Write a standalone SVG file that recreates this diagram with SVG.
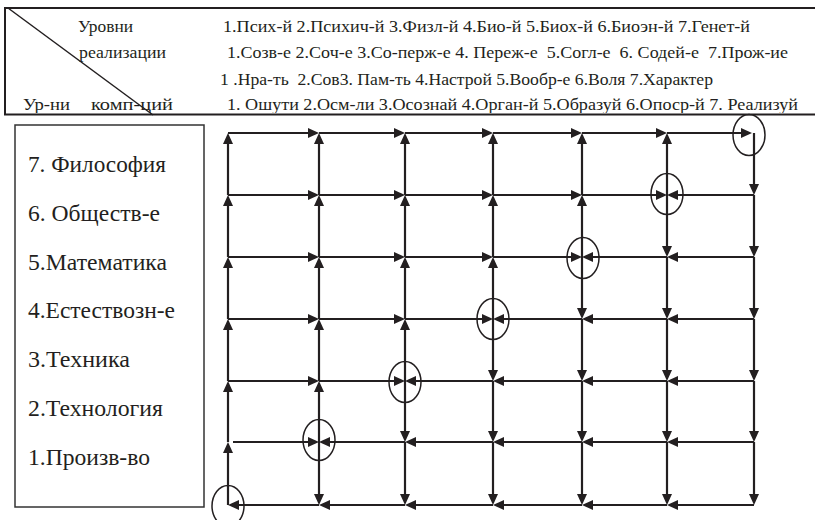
<svg xmlns="http://www.w3.org/2000/svg" width="815" height="520" viewBox="0 0 815 520">
<defs>
<style>
.t{fill:#231f20}
.h{font-size:17px}
.l{font-size:23px}
.frame{stroke:#231f20;fill:none;stroke-width:2}
.box{stroke:#333;fill:none;stroke-width:1.5}
.e{stroke:#231f20;stroke-width:2.2;fill:none;marker-end:url(#ah)}
.c{stroke:#231f20;stroke-width:1.5;fill:none}
</style>
<marker id="ah" viewBox="0 0 11 10" refX="5" refY="5" markerWidth="11" markerHeight="10" markerUnits="userSpaceOnUse" orient="auto">
<path d="M0,0 L11,5 L0,10 Z" fill="#231f20"/>
</marker>
<clipPath id="hc"><rect x="0" y="0" width="815" height="113"/></clipPath>
</defs>
<rect width="815" height="520" fill="#fff"/>

<g id="header" font-family="'Liberation Serif', 'DejaVu Serif', serif">
<path class="frame" d="M815,8 H5 V114.5 H815"/>
<line x1="8" y1="8" x2="153" y2="115" stroke="#231f20" stroke-width="1.5"/>
<text class="t h" x="78" y="32" textLength="55" lengthAdjust="spacingAndGlyphs">Уровни</text>
<text class="t h" x="79" y="58" textLength="87" lengthAdjust="spacingAndGlyphs">реализации</text>
<g clip-path="url(#hc)">
<text class="t h" x="23" y="110" textLength="47" lengthAdjust="spacingAndGlyphs">Ур-ни</text>
<text class="t h" x="91" y="110" textLength="82" lengthAdjust="spacingAndGlyphs">комп-ций</text>
<text class="t h" x="227" y="110" xml:space="preserve" textLength="571" lengthAdjust="spacingAndGlyphs">1. Ошути 2.Осм-ли 3.Осознай 4.Орган-й 5.Образуй 6.Опоср-й 7. Реализуй</text>
</g>
<text class="t h" x="223" y="32" xml:space="preserve" textLength="527" lengthAdjust="spacingAndGlyphs">1.Псих-й 2.Психич-й 3.Физл-й 4.Био-й 5.Биох-й 6.Биоэн-й 7.Генет-й</text>
<text class="t h" x="227" y="58" xml:space="preserve" textLength="561" lengthAdjust="spacingAndGlyphs">1.Созв-е 2.Соч-е 3.Со-перж-е 4. Переж-е  5.Согл-е  6. Содей-е  7.Прож-ие</text>
<text class="t h" x="220" y="85" xml:space="preserve" textLength="493" lengthAdjust="spacingAndGlyphs">1 .Нра-ть  2.Сов3. Пам-ть 4.Настрой 5.Вообр-е 6.Воля 7.Характер</text>
</g>

<g id="levels" font-family="Liberation Serif, serif">
<rect class="box" x="15" y="125" width="189" height="382"/>
<text id="lvl7" class="t l" x="28" y="172" textLength="138" lengthAdjust="spacingAndGlyphs">7. Философия</text>
<text id="lvl6" class="t l" x="28" y="221" textLength="132" lengthAdjust="spacingAndGlyphs">6. Обществ-е</text>
<text id="lvl5" class="t l" x="28" y="270" textLength="139" lengthAdjust="spacingAndGlyphs">5.Математика</text>
<text id="lvl4" class="t l" x="28" y="318" textLength="147" lengthAdjust="spacingAndGlyphs">4.Естествозн-е</text>
<text id="lvl3" class="t l" x="28" y="367" textLength="102" lengthAdjust="spacingAndGlyphs">3.Техника</text>
<text id="lvl2" class="t l" x="28" y="416" textLength="135" lengthAdjust="spacingAndGlyphs">2.Технология</text>
<text id="lvl1" class="t l" x="28" y="465" textLength="122" lengthAdjust="spacingAndGlyphs">1.Произв-во</text>
</g>

<g id="connectors">
<path class="e" d="M228,505 V448"/><path class="e" d="M228,442 V387"/><path class="e" d="M228,381 V325"/>
<path class="e" d="M228,319 V263"/><path class="e" d="M228,257 V201"/><path class="e" d="M228,195 V139"/>
<path class="e" d="M319,442 V499"/><path class="e" d="M319,442 V387"/><path class="e" d="M319,381 V325"/>
<path class="e" d="M319,319 V263"/><path class="e" d="M319,257 V201"/><path class="e" d="M319,195 V139"/>
<path class="e" d="M405,442 V499"/><path class="e" d="M405,381 V436"/><path class="e" d="M405,381 V325"/>
<path class="e" d="M405,319 V263"/><path class="e" d="M405,257 V201"/><path class="e" d="M405,195 V139"/>
<path class="e" d="M493,442 V499"/><path class="e" d="M493,381 V436"/><path class="e" d="M493,319 V375"/>
<path class="e" d="M493,319 V263"/><path class="e" d="M493,257 V201"/><path class="e" d="M493,195 V139"/>
<path class="e" d="M582,442 V499"/><path class="e" d="M582,381 V436"/><path class="e" d="M582,319 V375"/>
<path class="e" d="M582,257 V313"/><path class="e" d="M582,257 V201"/><path class="e" d="M582,195 V139"/>
<path class="e" d="M667,442 V499"/><path class="e" d="M667,381 V436"/><path class="e" d="M667,319 V375"/>
<path class="e" d="M667,257 V313"/><path class="e" d="M667,195 V251"/><path class="e" d="M667,195 V139"/>
<path class="e" d="M754,442 V499"/><path class="e" d="M754,381 V436"/><path class="e" d="M754,319 V375"/>
<path class="e" d="M754,257 V313"/><path class="e" d="M754,195 V251"/><path class="e" d="M754,133 V189"/>
<path class="e" d="M319,505 H234"/><path class="e" d="M405,505 H325"/><path class="e" d="M493,505 H411"/>
<path class="e" d="M582,505 H499"/><path class="e" d="M667,505 H588"/><path class="e" d="M754,505 H673"/>
<path class="e" d="M233,442 H313"/><path class="e" d="M405,442 H325"/><path class="e" d="M493,442 H411"/>
<path class="e" d="M582,442 H499"/><path class="e" d="M667,442 H588"/><path class="e" d="M754,442 H673"/>
<path class="e" d="M228,381 H313"/><path class="e" d="M319,381 H399"/><path class="e" d="M493,381 H411"/>
<path class="e" d="M582,381 H499"/><path class="e" d="M667,381 H588"/><path class="e" d="M754,381 H673"/>
<path class="e" d="M228,319 H313"/><path class="e" d="M319,319 H399"/><path class="e" d="M405,319 H487"/>
<path class="e" d="M582,319 H499"/><path class="e" d="M667,319 H588"/><path class="e" d="M754,319 H673"/>
<path class="e" d="M228,257 H313"/><path class="e" d="M319,257 H399"/><path class="e" d="M405,257 H487"/>
<path class="e" d="M493,257 H576"/><path class="e" d="M667,257 H588"/><path class="e" d="M754,257 H673"/>
<path class="e" d="M228,195 H313"/><path class="e" d="M319,195 H399"/><path class="e" d="M405,195 H487"/>
<path class="e" d="M493,195 H576"/><path class="e" d="M582,195 H661"/><path class="e" d="M754,195 H673"/>
<path class="e" d="M228,133 H313"/><path class="e" d="M319,133 H399"/><path class="e" d="M405,133 H487"/>
<path class="e" d="M493,133 H576"/><path class="e" d="M582,133 H661"/><path class="e" d="M667,133 H746"/>
</g>

<g id="convergence">
<ellipse id="n1" class="c" cx="228" cy="506" rx="16" ry="20.5"/>
<ellipse id="n2" class="c" cx="319" cy="440" rx="16" ry="20.5"/>
<ellipse id="n3" class="c" cx="405" cy="382" rx="16" ry="20.5"/>
<ellipse id="n4" class="c" cx="493" cy="319" rx="16" ry="20.5"/>
<ellipse id="n5" class="c" cx="583" cy="258" rx="16" ry="20.5"/>
<ellipse id="n6" class="c" cx="667" cy="194" rx="16" ry="20.5"/>
<ellipse id="n7" class="c" cx="749" cy="135" rx="16" ry="20.5"/>
</g>
</svg>
